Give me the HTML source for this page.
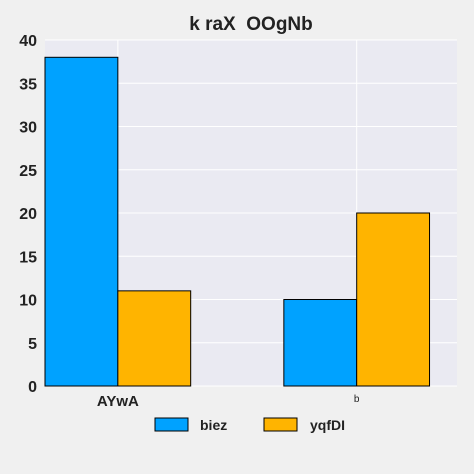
<!DOCTYPE html>
<html><head><meta charset="utf-8"><style>
html,body{margin:0;padding:0;background:#f0f0f0;font-family:"Liberation Sans",sans-serif;overflow:hidden;width:474px;height:474px;}
svg{display:block;}
</style></head><body>
<svg width="474" height="474" xmlns="http://www.w3.org/2000/svg" id="chart">
<rect x="0" y="0" width="474" height="474" fill="#f0f0f0"/>
<text x="251" y="30" text-anchor="middle" font-size="19" font-weight="bold" fill="#222">k raX&#160; OOgNb</text>
<rect x="45" y="40" width="412" height="346" fill="#eaeaf2"/>
<g id="grid"></g><g id="bars"></g><g id="axes"></g>
<g>
<rect x="155" y="418" width="33" height="13" fill="#00a2ff" stroke="#000" stroke-width="1"/>
<text x="200" y="430" font-size="14" font-weight="bold" fill="#222">biez</text>
<rect x="264" y="418" width="33" height="13" fill="#ffb400" stroke="#000" stroke-width="1"/>
<text x="310" y="430" font-size="14" font-weight="bold" fill="#222">yqfDI</text>
</g>
</svg>
<script>
const categories=["AYwA","b"];
const biez=[38,10];
const yqfDI=[11,20];
const yTicks=[0,5,10,15,20,25,30,35,40];
const NS="http://www.w3.org/2000/svg";
const L=45,R=457,T=40,B=386,bw=0.305;
function x(v){return L+(v+0.305)/(1.42+0.305)*(R-L);}
function y(v){return B-v/40*(B-T);}
const grid=document.getElementById('grid'),bars=document.getElementById('bars'),axes=document.getElementById('axes');
function mk(tag,attrs,parent){const e=document.createElementNS(NS,tag);for(const k in attrs)e.setAttribute(k,attrs[k]);parent.appendChild(e);return e;}
yTicks.forEach(t=>{
  const l=mk('line',{x1:L,x2:R,y1:y(t),y2:y(t),stroke:'#fff','stroke-width':1},grid);
  
  
  const tx=mk('text',{x:37,y:y(t)+6,'text-anchor':'end','font-size':16,'font-weight':'bold',fill:'#222'},axes);
  tx.textContent=t;
  
  
});
categories.forEach((c,i)=>{
  const g=mk('line',{x1:x(i),x2:x(i),y1:T,y2:B,stroke:'#fff','stroke-width':1},grid);
  
  
  const b1=mk('rect',{x:x(i-bw),y:y(biez[i]),width:x(i)-x(i-bw),height:y(0)-y(biez[i]),fill:'#00a2ff',stroke:'#000','stroke-width':1},bars);
  
  
  const b2=mk('rect',{x:x(i),y:y(yqfDI[i]),width:x(i+bw)-x(i),height:y(0)-y(yqfDI[i]),fill:'#ffb400',stroke:'#000','stroke-width':1},bars);
  
  
  const tx=mk('text',{x:x(i),y:i==0?406:402,'text-anchor':'middle','font-size':i==0?15:10,'font-weight':i==0?'bold':'normal',fill:'#222'},axes);
  tx.textContent=c;
  
  
});
</script>
</body></html>
